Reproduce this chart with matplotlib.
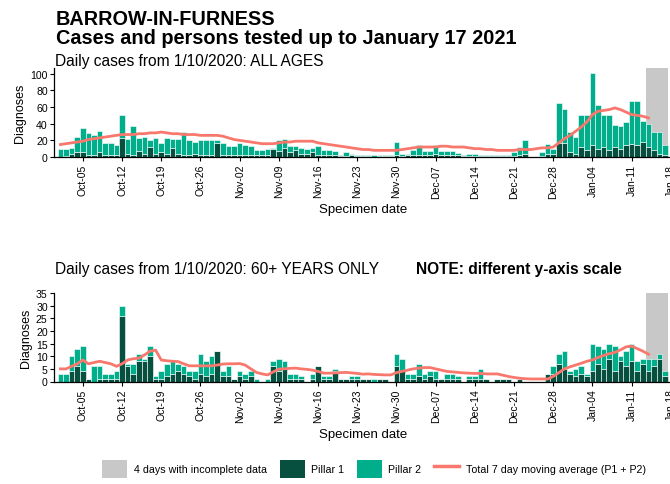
import matplotlib
matplotlib.use("Agg")
import matplotlib.pyplot as plt
from matplotlib.patches import Patch
from matplotlib.lines import Line2D
import numpy as np

plt.rcParams['font.family'] = ['Liberation Sans', 'DejaVu Sans']

# Day index 0 = 1 Oct 2020 ... 108 = 17 Jan 2021
tick_pos = [4, 11, 18, 25, 32, 39, 46, 53, 60, 67, 74, 81, 88, 95, 102, 109]
tick_labels = ["Oct-05", "Oct-12", "Oct-19", "Oct-26", "Nov-02", "Nov-09", "Nov-16",
               "Nov-23", "Nov-30", "Dec-07", "Dec-14", "Dec-21", "Dec-28", "Jan-04",
               "Jan-11", "Jan-18"]

# ALL AGES
all_total = [10, 10, 11, 24, 35, 29, 27, 31, 17, 17,
             14, 50, 22, 37, 23, 24, 21, 23, 17, 23,
             22, 22, 30, 21, 18, 21, 21, 21, 21, 17,
             13, 13, 17, 15, 13, 9, 8, 10, 11, 21,
             22, 13, 13, 11, 10, 11, 13, 8, 8, 7,
             3, 6, 4, 3, 2, 2, 2, 2, 2, 2,
             18, 4, 4, 8, 15, 7, 7, 15, 7, 7,
             7, 5, 3, 4, 4, 3, 2, 3, 3, 3,
             3, 6, 12, 21, 0, 0, 6, 16, 10, 65,
             58, 30, 24, 51, 51, 101, 63, 51, 51, 38,
             37, 42, 67, 67, 43, 40, 30, 30, 15]
all_p1 = [0, 1, 4, 6, 6, 3, 2, 6, 2, 2,
          3, 23, 4, 3, 7, 4, 12, 4, 6, 4,
          11, 4, 3, 3, 4, 3, 3, 3, 17, 3,
          2, 3, 3, 2, 2, 2, 3, 2, 10, 7,
          11, 6, 9, 4, 4, 6, 3, 3, 3, 2,
          1, 1, 2, 1, 1, 1, 0, 1, 1, 1,
          3, 1, 2, 3, 2, 3, 3, 4, 3, 3,
          3, 2, 1, 1, 1, 1, 1, 1, 1, 1,
          1, 1, 2, 4, 0, 0, 1, 4, 4, 17,
          17, 6, 4, 12, 8, 14, 10, 12, 8, 12,
          10, 15, 16, 15, 18, 12, 8, 4, 3]
all_ma = [15, 16, 17, 18, 19, 21, 22, 23, 24, 25,
          26, 27, 27, 27, 28, 28, 29, 29, 30, 29,
          28, 28, 27, 27, 27, 26, 26, 26, 26, 25,
          23, 21, 20, 19, 18, 17, 16, 16, 16, 17,
          18, 18, 19, 19, 19, 19, 17, 16, 15, 14,
          13, 12, 11, 10, 9, 9, 8, 8, 8, 8,
          8, 9, 10, 11, 12, 12, 12, 12, 13, 13,
          12, 12, 12, 11, 10, 10, 9, 9, 8, 8,
          8, 8, 9, 9, 9, 10, 11, 11, 12, 17,
          22, 26, 31, 36, 42, 51, 55, 56, 57, 59,
          57, 54, 51, 50, 49, 47]

# 60+ ONLY
old_total = [3, 3, 10, 13, 14, 1, 6, 6, 3, 3,
             4, 30, 7, 7, 11, 9, 14, 2, 4, 7,
             8, 7, 6, 4, 4, 11, 8, 10, 12, 4,
             6, 1, 4, 3, 4, 1, 0, 1, 8, 9,
             8, 3, 3, 2, 0, 3, 6, 2, 2, 5,
             1, 1, 2, 2, 1, 1, 1, 1, 1, 0,
             11, 9, 3, 3, 7, 3, 4, 4, 1, 3,
             3, 2, 0, 2, 2, 5, 1, 0, 1, 1,
             1, 0, 1, 0, 0, 0, 0, 3, 6, 11,
             12, 4, 5, 6, 3, 15, 14, 13, 15, 14,
             10, 12, 15, 8, 9, 9, 9, 11, 4]
old_p1 = [0, 0, 4, 6, 4, 1, 0, 1, 1, 1,
          1, 26, 6, 3, 8, 8, 10, 1, 1, 2,
          3, 4, 3, 2, 1, 3, 2, 3, 12, 2,
          2, 1, 2, 1, 2, 0, 0, 0, 6, 4,
          5, 1, 1, 1, 0, 1, 6, 1, 1, 4,
          1, 1, 1, 1, 1, 1, 0, 1, 1, 0,
          6, 4, 1, 1, 2, 1, 2, 1, 1, 1,
          1, 1, 0, 1, 1, 1, 1, 0, 1, 1,
          1, 0, 1, 0, 0, 0, 0, 3, 3, 7,
          5, 3, 2, 3, 2, 4, 7, 5, 9, 4,
          8, 6, 8, 4, 7, 4, 6, 9, 2]
old_ma = [5, 5, 6, 7, 8.5, 7, 7.5, 8, 7.5, 7,
          6, 7, 8.5, 9, 9.2, 10.5, 12, 12.4, 8.5, 8.2,
          8, 7.9, 7, 6.2, 6.2, 6.2, 6.2, 6.2, 6.5, 6.9,
          7, 7, 7.1, 6.5, 5, 3.6, 3, 2.6, 3.8, 4.9,
          5, 5.2, 5.3, 5, 4.8, 4.5, 4, 3.3, 3.3, 3.4,
          3.5, 3.6, 3.4, 3.2, 2.9, 3, 2.8, 2.7, 2.6, 2.6,
          3.5, 4, 4.5, 5, 5.3, 5.5, 5.5, 5, 4.5, 4,
          3.8, 3.6, 3.4, 3.3, 3.2, 3.2, 3, 3, 3, 2.5,
          2, 1.6, 1.3, 1.1, 1, 1, 1, 1, 2, 3.5,
          5, 5.8, 6.5, 7.2, 8, 8.5, 9.5, 10.3, 11, 11.5,
          12.5, 13.7, 14, 13, 12, 10.8]

incomplete_start, incomplete_end = 104.5, 108.5

C_P1 = '#07503f'
C_P2 = '#00ae8c'
C_MA = '#f8786e'
C_GREY = '#c8c8c8'

W, H = 670, 485
fig = plt.figure(figsize=(W / 100, H / 100), dpi=100)

xlim = (-1.15, 109.25)
ax_left = 54 / W
ax_width = (xlim[1] - xlim[0]) * 5.6 / W


def draw(ax, total, p1, ma, ymax, yticks):
    x = np.arange(len(total))
    total = np.array(total, dtype=float)
    p1 = np.array(p1, dtype=float)
    ax.axvspan(incomplete_start, incomplete_end, color=C_GREY, zorder=0, lw=0)
    ax.bar(x, p1, width=1.0, color=C_P1, edgecolor='white', linewidth=0.4, zorder=2)
    ax.bar(x, total - p1, bottom=p1, width=1.0, color=C_P2, edgecolor='white',
           linewidth=0.4, zorder=2)
    ax.plot(np.arange(len(ma)), ma, color=C_MA, lw=2.0, zorder=3)
    ax.set_xlim(*xlim)
    ax.set_ylim(0, ymax)
    ax.set_yticks(yticks)
    ax.set_xticks(tick_pos)
    ax.set_xticklabels(tick_labels, rotation=90, fontsize=7.5)
    ax.tick_params(axis='y', labelsize=7.6, length=3, width=0.8, pad=1.5)
    ax.tick_params(axis='x', length=3, width=0.8, pad=2)
    for s in ['top', 'right']:
        ax.spines[s].set_visible(False)
    for s in ['left', 'bottom']:
        ax.spines[s].set_linewidth(0.9)
    ax.set_ylabel('Diagnoses', fontsize=9, labelpad=3)
    ax.set_xlabel('Specimen date', fontsize=9.5, labelpad=4)


ax1 = fig.add_axes([ax_left, 1 - 158 / H, ax_width, 89 / H])
draw(ax1, all_total, all_p1, all_ma, 107, [0, 20, 40, 60, 80, 100])

ax2 = fig.add_axes([ax_left, 1 - 382.5 / H, ax_width, 88.5 / H])
draw(ax2, old_total, old_p1, old_ma, 35, [0, 5, 10, 15, 20, 25, 30, 35])

fig.text(56 / W, 1 - 25 / H, 'BARROW-IN-FURNESS', fontsize=14.3, fontweight='bold',
         va='baseline', ha='left')
fig.text(56 / W, 1 - 44 / H, 'Cases and persons tested up to January 17 2021',
         fontsize=14.3, fontweight='bold', va='baseline', ha='left')
fig.text(55 / W, 1 - 66 / H, 'Daily cases from 1/10/2020: ALL AGES', fontsize=11.2,
         va='baseline', ha='left')
fig.text(55 / W, 1 - 274 / H, 'Daily cases from 1/10/2020: 60+ YEARS ONLY', fontsize=11.2,
         va='baseline', ha='left')
fig.text(416 / W, 1 - 274 / H, 'NOTE: different y-axis scale', fontsize=11.2,
         fontweight='bold', va='baseline', ha='left')

handles = [Patch(facecolor=C_GREY, edgecolor='none'),
           Patch(facecolor=C_P1, edgecolor='none'),
           Patch(facecolor=C_P2, edgecolor='none'),
           Line2D([0], [0], color=C_MA, lw=2.5)]
labels = ['4 days with incomplete data', 'Pillar 1', 'Pillar 2',
          'Total 7 day moving average (P1 + P2)']
fig.legend(handles, labels, loc='center', bbox_to_anchor=(374 / W, 1 - 470 / H), ncol=4,
           frameon=False, fontsize=7.7, handlelength=2.35, handleheight=2.35,
           columnspacing=1.2, handletextpad=0.6, borderpad=0.1)

fig.savefig('out.png', dpi=100)
